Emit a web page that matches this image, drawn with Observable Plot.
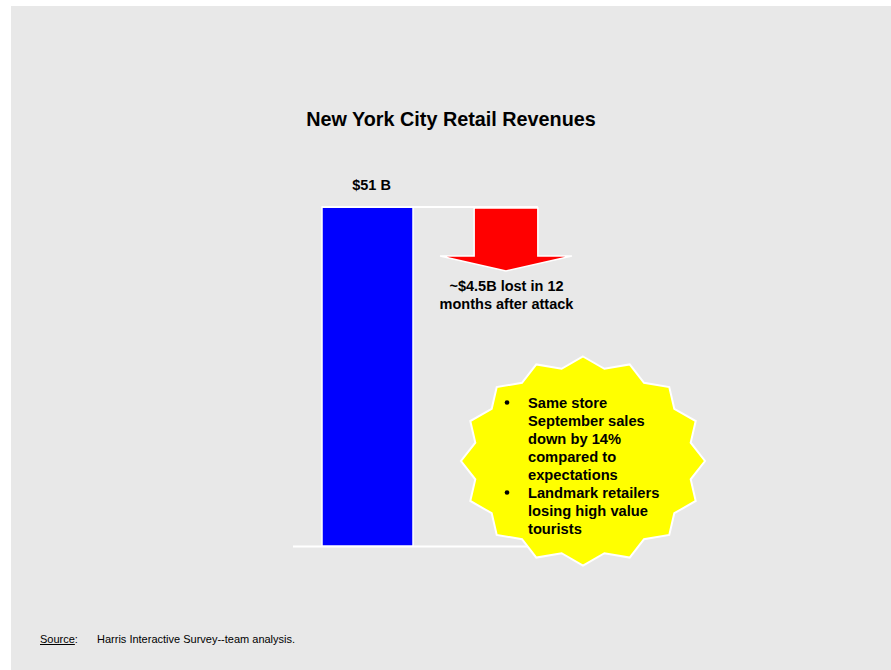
<!DOCTYPE html>
<html>
<head>
<meta charset="utf-8">
<script src="https://cdn.jsdelivr.net/npm/d3@7"></script>
<script src="https://cdn.jsdelivr.net/npm/@observablehq/plot@0.6"></script>
<style>
  html, body { margin: 0; padding: 0; background: #ffffff; }
  body { position: relative; width: 891px; height: 670px; overflow: hidden;
         font-family: "Liberation Sans", Arial, sans-serif; }
  #bg { position: absolute; left: 11px; top: 6px; width: 880px; height: 664px; background: #e8e8e8; }
  #title { position: absolute; left: 11px; width: 880px; top: 109px; text-align: center;
           font-size: 19.8px; line-height: 20px; font-weight: bold; color: #000; }
  #chart { position: absolute; left: 0; top: 150px; }
  #caption { position: absolute; left: 40px; top: 633px; font-size: 11px; line-height: 13px; color: #000; white-space: pre; }
  #caption u { text-decoration: underline; }
</style>
</head>
<body>
<div id="bg"></div>
<div id="title">New York City Retail Revenues</div>
<div id="chart"></div>
<div id="caption"><u>Source</u>:<span style="position:absolute;left:57px;top:0">Harris Interactive Survey--team analysis.</span></div>
<script>
// ---- data ----
const categories = ["Retail revenues", "Lost after attack"];
const revenue = [51];          // $ billions
const lost = [4.5];            // $ billions lost in 12 months after attack
const revenueLabels = ["$51 B"];
const lossLabels = ["~$4.5B lost in 12\nmonths after attack"];
const bulletTexts = [
  ["Same store", "September sales", "down by 14%", "compared to", "expectations"],
  ["Landmark retailers", "losing high value", "tourists"]
];

const bars = revenue.map((v, i) => ({category: categories[i], value: v, label: revenueLabels[i]}));
const losses = lost.map((v, i) => ({category: categories[i + 1], top: revenue[0], value: v, label: lossLabels[i]}));

const FONT = "'Liberation Sans', Arial, Helvetica, sans-serif";

function decorations(index, scales) {
  const x = scales.x, y = scales.y;
  const bw = x.bandwidth ? x.bandwidth() : 91;
  const g = d3.create("svg:g");
  const x0 = x(categories[0]);
  const cx = x(categories[1]) + bw / 2;
  const yTop = y(revenue[0]);
  const shaftHalf = bw * 0.35, headHalf = bw * 0.725, shaftLen = 49, headLen = 15;

  // white line joining bar top to the loss arrow
  g.append("line")
    .attr("x1", x0).attr("x2", cx + shaftHalf)
    .attr("y1", yTop).attr("y2", yTop)
    .attr("stroke", "white").attr("stroke-width", 2);

  // block arrow (loss)
  const pts = [
    [cx - shaftHalf, yTop + 1], [cx + shaftHalf, yTop + 1],
    [cx + shaftHalf, yTop + shaftLen], [cx + headHalf, yTop + shaftLen],
    [cx, yTop + shaftLen + headLen],
    [cx - headHalf, yTop + shaftLen], [cx - shaftHalf, yTop + shaftLen]
  ];
  g.append("polygon")
    .attr("points", pts.map(p => p.join(",")).join(" "))
    .attr("fill", "#ff0000").attr("stroke", "white").attr("stroke-width", 1.5)
    .attr("stroke-linejoin", "miter");

  // 16-point starburst callout
  const sc = {cx: cx + 77, cy: y(0) - 85, rx: 122, ry: 104.5, n: 16, inner: 0.9};
  const star = [];
  for (let i = 0; i < sc.n * 2; i++) {
    const a = -Math.PI / 2 + i * Math.PI / sc.n;
    const r = i % 2 ? sc.inner : 1;
    star.push([sc.cx + sc.rx * r * Math.cos(a), sc.cy + sc.ry * r * Math.sin(a)]);
  }
  g.append("polygon")
    .attr("points", star.map(p => p.join(",")).join(" "))
    .attr("fill", "#ffff00").attr("stroke", "white").attr("stroke-width", 2);

  const lh = 18;
  let line = 0;
  const tg = g.append("g")
    .attr("font-family", FONT).attr("font-weight", "bold").attr("font-size", 14.7)
    .attr("fill", "#000").attr("text-anchor", "start");
  bulletTexts.forEach(lines => {
    const by = sc.cy - 53 + line * lh;
    tg.append("circle").attr("cx", sc.cx - 76).attr("cy", by - 5.5).attr("r", 2.3).attr("fill", "#000");
    lines.forEach((t, j) => {
      tg.append("text").attr("x", sc.cx - 55).attr("y", by + j * lh).attr("text-anchor", "start").text(t);
    });
    line += lines.length;
  });
  return g.node();
}

const chart = Plot.plot({
  width: 891,
  height: 430,
  marginLeft: 293,
  marginRight: 331,
  marginTop: 0,
  marginBottom: 0,
  style: {background: "transparent", fontFamily: FONT, overflow: "visible"},
  x: {type: "band", domain: categories, range: [274.5, 599], padding: 0.343, round: false, axis: null},
  y: {domain: [0, 51], range: [396, 57], axis: null},
  marks: [
    Plot.ruleY([0], {stroke: "white", strokeWidth: 2}),
    Plot.barY(bars, {x: "category", y: "value", fill: "#0000ff", stroke: "white", strokeWidth: 1.5}),
    Plot.text(bars, {x: "category", y: "value", text: "label", dx: 3.5, dy: -22, fontWeight: "bold", fontSize: 14.5, fill: "#000"}),
    decorations,
    Plot.text(losses, {x: "category", y: "top", text: "label", lineAnchor: "top", dy: 70.7, lineHeight: 18 / 14.5,
                       fontWeight: "bold", fontSize: 14.5, fill: "#000"})
  ]
});
document.getElementById("chart").appendChild(chart);
</script>
</body>
</html>
